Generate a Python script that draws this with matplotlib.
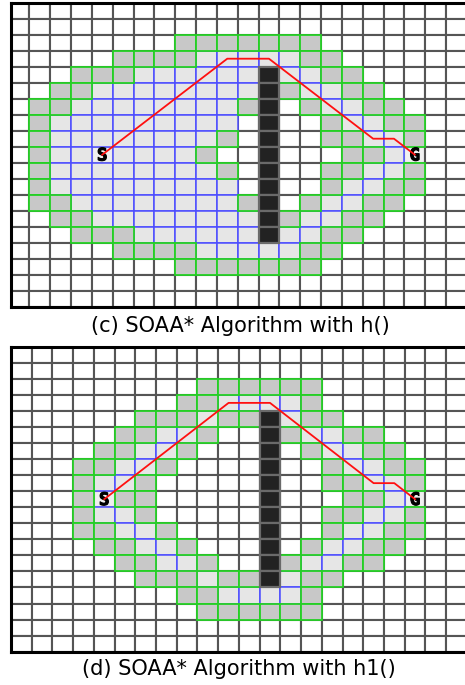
import matplotlib.pyplot as plt
from matplotlib.patches import Rectangle
import matplotlib.patheffects as pe

# cell codes: '.' free, 'o' closed (blue edge), 'g' open (green edge), '#' obstacle
grid_h = [
    "......................",
    "......................",
    "........ggggggg.......",
    ".....ggggooooogg......",
    "...gggoooooo#oogg.....",
    "..ggoooooooo#googg....",
    ".ggoooooooog#.googg...",
    ".gooooooooo.#..googg..",
    ".goooooooog.#..ggoog..",
    ".gooSoooog..#...ggoG..",
    ".goooooooog.#..ggoog..",
    ".gooooooooo.#..googg..",
    ".ggoooooooog#.googg...",
    "..ggoooooooo#googg....",
    "...gggoooooo#oogg.....",
    ".....ggggooooogg......",
    "........ggggggg.......",
    "......................",
    "......................",
]

grid_h1 = [
    "......................",
    "......................",
    ".........gggggg.......",
    "........ggoooog.......",
    "......gggogg#ogg......",
    ".....ggoog..#googg....",
    "....ggoog...#.googg...",
    "...ggoog....#..googg..",
    "...goog.....#..ggoog..",
    "...gSgg.....#...ggoG..",
    "...goog.....#..ggoog..",
    "...ggoog....#..googg..",
    "....ggoog...#.googg...",
    ".....ggoog..#googg....",
    "......gggogg#ogg......",
    "........ggoooog.......",
    ".........gggggg.......",
    "......................",
    "......................",
]

path_cols = [4, 10, 12, 17, 18, 19]
path_rows = [9, 3, 3, 8, 8, 9]

captions = ["(c) SOAA* Algorithm with h()", "(d) SOAA* Algorithm with h1()"]

fill = {'.': 'white', 'o': '#e6e6e6', 'g': '#c8c8c8', '#': '#222222', 'S': '#f0f0f0', 'G': '#f0f0f0'}
edge = {'.': '#555555', 'o': '#4d4dff', 'g': '#25d025', '#': '#6a6a6a', 'S': '#aaaaaa', 'G': '#aaaaaa'}
layer = {'.': 1, 'S': 1, 'G': 1, 'o': 2, 'g': 3, '#': 4}
lws = {'.': 1.5, 'S': 1.5, 'G': 1.5, 'o': 1.1, 'g': 1.3, '#': 1.6}


def draw_panel(ax, grid):
    for r, row in enumerate(grid):
        for c, ch in enumerate(row):
            ax.add_patch(Rectangle((c, r), 1, 1, facecolor=fill[ch], edgecolor=edge[ch],
                                   lw=lws[ch], zorder=layer[ch]))
            if ch in 'SG':
                ax.text(c + 0.5, r + 0.55, ch, ha='center', va='center', fontsize=12.5,
                        fontweight='bold', family='DejaVu Sans Mono', color='black', zorder=5,
                        path_effects=[pe.withStroke(linewidth=0.8, foreground='black')])
    ax.plot([c + 0.5 for c in path_cols], [r + 0.5 for r in path_rows],
            color='#ff1010', lw=1.3, zorder=6)
    ax.set_ylim(19, 0)
    ax.set_xticks([])
    ax.set_yticks([])
    for s in ax.spines.values():
        s.set_linewidth(2.2)
        s.set_color('black')
        s.set_zorder(10)


fig = plt.figure(figsize=(4.65, 6.85), dpi=100)

ax1 = fig.add_axes([11 / 465, (685 - 306.7) / 685, (8.5 + 22 * 20.835 - 11) / 465, 304 / 685])
draw_panel(ax1, grid_h)
ax1.set_xlim(0.12, 22)

ax2 = fig.add_axes([11 / 465, (685 - 651.7) / 685, 22 * 20.72 / 465, 305 / 685])
draw_panel(ax2, grid_h1)
ax2.set_xlim(0, 22)

fig.text(240 / 465, 1 - 326 / 685, captions[0], ha='center', va='center', fontsize=15,
         family='DejaVu Sans')
fig.text(239 / 465, 1 - 669 / 685, captions[1], ha='center', va='center', fontsize=15,
         family='DejaVu Sans')

fig.savefig('out.png', dpi=100)
